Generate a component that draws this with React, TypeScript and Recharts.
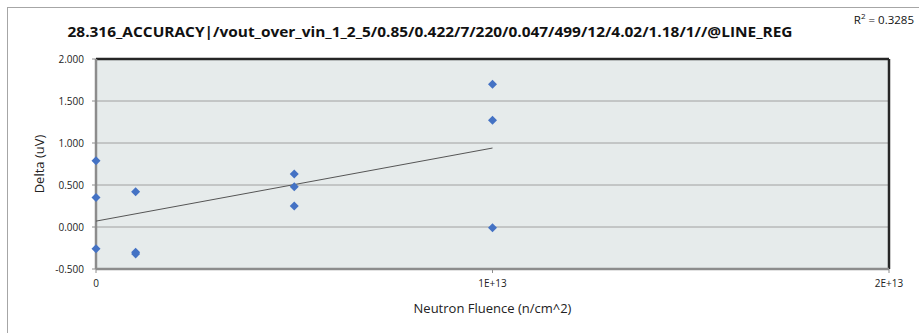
import { ScatterChart, Scatter, XAxis, YAxis, CartesianGrid, ReferenceLine } from "recharts";

// measured points: fluence (n/cm^2) vs delta (uV)
const fluence = [0, 0, 0, 1e12, 1e12, 1e12, 5e12, 5e12, 5e12, 1e13, 1e13, 1e13];
const delta = [0.79, 0.35, -0.26, 0.42, -0.3, -0.32, 0.63, 0.48, 0.25, 1.7, 1.27, -0.01];

// linear trend line ends
const trendX = [0, 1e13];
const trendY = [0.07, 0.94];

const xTicks = [0, 1e13, 2e13];
const yTicks = [-0.5, 0, 0.5, 1, 1.5, 2];

const title = "28.316_ACCURACY|/vout_over_vin_1_2_5/0.85/0.422/7/220/0.047/499/12/4.02/1.18/1//@LINE_REG";
const rSquared = "0.3285";

const points = fluence.map((x, i) => ({ x, y: delta[i] }));
const trend = trendX.map((x, i) => ({ x, y: trendY[i] }));

const FONT = "'Open Sans', sans-serif";

const Diamond = (props: any) => {
  const { cx, cy } = props;
  if (cx == null || cy == null) return null;
  const r = 4.5;
  return (
    <path
      d={`M${cx},${cy - r}L${cx + r},${cy}L${cx},${cy + r}L${cx - r},${cy}Z`}
      fill="#4472C4"
    />
  );
};

const fmtX = (v: number) => (v === 0 ? "0" : `${v / 1e13}E+13`);

export default function App() {
  return (
    <div
      style={{
        position: "absolute",
        left: 0,
        top: 0,
        width: 919,
        height: 333,
        overflow: "hidden",
        background: "#fff",
      }}
    >
      <div
        style={{
          position: "absolute",
          left: 7,
          top: 7,
          width: 1000,
          height: 1000,
          border: "1px solid #a6a6a6",
        }}
      />
      <div style={{ position: "absolute", left: 0, top: 0 }}>
        <ScatterChart
          width={919}
          height={333}
          margin={{ top: 59, right: 30, bottom: 24, left: 46 }}
        >
          <CartesianGrid vertical={false} stroke="#a0a0a0" fill="#e6ebeb" />
          <XAxis
            type="number"
            dataKey="x"
            domain={[0, 2e13]}
            ticks={xTicks}
            tickFormatter={fmtX}
            height={40}
            stroke="#8c8c8c"
            axisLine={{ stroke: "#8c8c8c", strokeWidth: 2.5 }}
            tickSize={4}
            tickMargin={7}
            tick={{ fill: "#222", fontSize: 10, fontFamily: FONT }}
            label={{
              value: "Neutron Fluence (n/cm^2)",
              position: "insideBottom",
              offset: -4,
              fill: "#222",
              fontSize: 13,
              fontFamily: FONT,
            }}
          />
          <YAxis
            type="number"
            dataKey="y"
            domain={[-0.5, 2]}
            ticks={yTicks}
            tickFormatter={(v: number) => v.toFixed(3)}
            width={50}
            stroke="#8c8c8c"
            axisLine={{ stroke: "#8c8c8c", strokeWidth: 2.5 }}
            tickSize={4}
            tickMargin={8}
            tick={{ fill: "#222", fontSize: 10, fontFamily: FONT }}
            label={{
              value: "Delta (uV)",
              angle: -90,
              position: "insideLeft",
              offset: -7,
              style: { textAnchor: "middle" },
              fill: "#222",
              fontSize: 13,
              fontFamily: FONT,
            }}
          />
          <ReferenceLine y={2} stroke="#262626" strokeWidth={2.5} />
          <ReferenceLine x={2e13} stroke="#262626" strokeWidth={2.5} />
          <Scatter
            data={trend}
            line={{ stroke: "#555", strokeWidth: 1 }}
            shape={() => null}
            isAnimationActive={false}
          />
          <Scatter data={points} shape={Diamond} isAnimationActive={false} />
        </ScatterChart>
      </div>
      <svg
        width={919}
        height={333}
        style={{ position: "absolute", left: 0, top: 0, pointerEvents: "none" }}
      >
        <text
          x={430}
          y={37}
          textAnchor="middle"
          fontFamily={FONT}
          fontWeight="bold"
          fontSize={13.5}
          fill="#111"
          textLength={725}
          lengthAdjust="spacingAndGlyphs"
        >
          {title}
        </text>
        <text x={914} y={24} textAnchor="end" fontFamily={FONT} fontSize={11.5} fill="#111">
          R
          <tspan fontSize={8} dy={-5}>2</tspan>
          <tspan dy={5}>{` = ${rSquared}`}</tspan>
        </text>
      </svg>
    </div>
  );
}
